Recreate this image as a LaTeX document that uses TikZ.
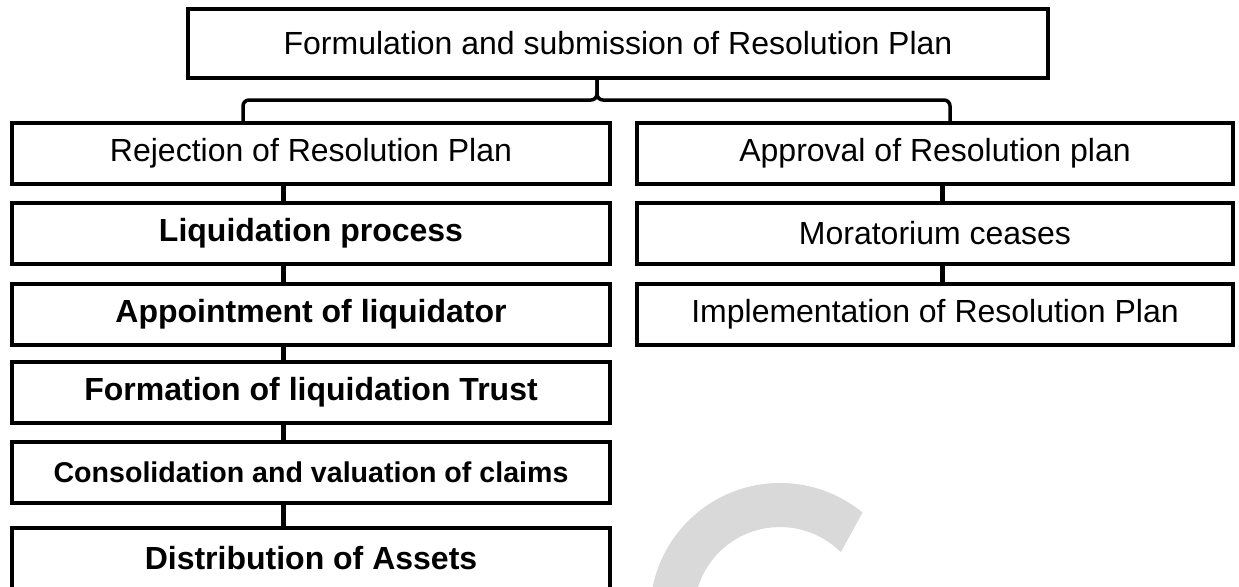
\documentclass[tikz,border=0pt]{standalone}
\usepackage{fontspec}
\setmainfont{Liberation Sans}
\definecolor{wmgray}{HTML}{D9D9D9}

\begin{document}
\begin{tikzpicture}[x=0.5pt, y=-0.5pt,
  stepbox/.style={draw, line width=2pt, inner sep=0pt, minimum height=30.5pt,
    font=\fontsize{16}{19}\selectfont},
  boldbox/.style={stepbox, font=\fontsize{16}{19}\selectfont\bfseries},
  link/.style={line width=2.5pt},
  brace/.style={line width=1.75pt, rounded corners=3pt}]
  \useasboundingbox (0,0) rectangle (1239,586);
  % big faint C behind the chart
  \coordinate (ccen) at (780,613);
  \fill[wmgray] ([shift={(-50.6:130)}]ccen) arc[start angle=-50.6, end angle=-190, radius=130]
    -- ([shift={(-190:86)}]ccen) arc[start angle=-190, end angle=-45, radius=86] -- cycle;

  \node[stepbox, minimum width=430pt, minimum height=34.5pt] (plan) at (618,43.5)
    {Formulation and submission of Resolution Plan};

  % rejected plan: liquidation branch
  \node[stepbox, minimum width=299pt] (reject) at (311,153.5) {Rejection of Resolution Plan};
  \node[boldbox, minimum width=299pt] (liquid) at (311,233) {Liquidation process};
  \node[boldbox, minimum width=299pt] (liqtor) at (311,314) {Appointment of liquidator};
  \node[boldbox, minimum width=299pt] (trust) at (311,392.5) {Formation of liquidation Trust};
  \node[boldbox, minimum width=299pt, font=\fontsize{14.3}{17}\selectfont\bfseries] (claims)
    at (311,472) {Consolidation and valuation of claims};
  \node[boldbox, minimum width=299pt] (assets) at (311,558.5) {Distribution of Assets};

  % approved plan
  \node[stepbox, minimum width=298pt] (approve) at (935,153.5) {Approval of Resolution plan};
  \node[stepbox, minimum width=298pt] (morat) at (935,233) {Moratorium ceases};
  \node[stepbox, minimum width=298pt] (implement) at (935,314)
    {Implementation of Resolution Plan};

  \coordinate (lstem) at (283,0);
  \coordinate (rstem) at (942,0);
  \foreach \a/\b in {reject/liquid, liquid/liqtor, liqtor/trust, trust/claims, claims/assets}
    \draw[link] (\a.south -| lstem) -- (\b.north -| lstem);
  \foreach \a/\b in {approve/morat, morat/implement}
    \draw[link] (\a.south -| rstem) -- (\b.north -| rstem);

  % brace splitting the two outcomes
  \coordinate (ltip) at (243,0);
  \coordinate (rtip) at (950,0);
  \coordinate (bar) at (597,100);
  \draw[brace] (reject.north -| ltip) |- (bar) -- (bar |- plan.south);
  \draw[brace] (approve.north -| rtip) |- (bar) -- (bar |- plan.south);
\end{tikzpicture}
\end{document}
